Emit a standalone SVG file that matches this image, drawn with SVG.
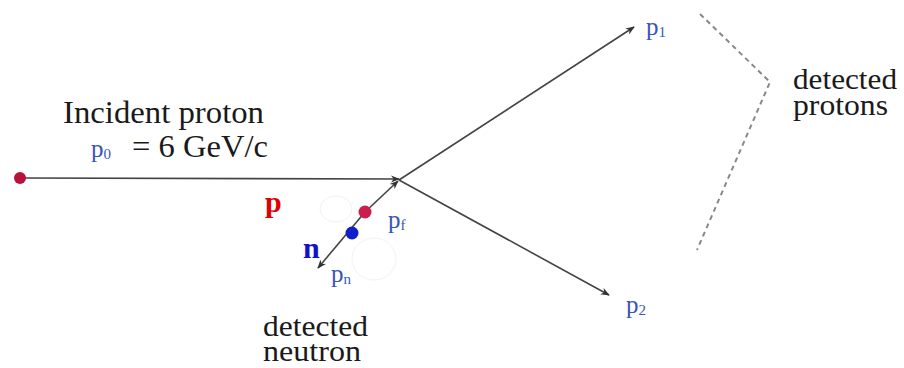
<svg xmlns="http://www.w3.org/2000/svg" width="904" height="368" viewBox="0 0 904 368">
<style>
.t{font-family:"Liberation Serif","Times New Roman",serif;fill:#1a1a1a;font-size:31px}
.t2{font-family:"Liberation Serif","Times New Roman",serif;fill:#1a1a1a;font-size:29px}
.lb{font-family:"Liberation Serif","Times New Roman",serif;fill:#3a55b8;font-size:25px}
.sub{font-size:15px}
.ln{stroke:#444;stroke-width:1.6;fill:none}
.dash{stroke:#888;stroke-width:2;stroke-dasharray:5,4;fill:none}
.bold{font-family:"Liberation Serif","Times New Roman",serif;font-weight:bold;font-size:30px}
</style>
<defs>
<marker id="ah" viewBox="0 0 10 10" refX="9" refY="5" markerWidth="9" markerHeight="9" markerUnits="userSpaceOnUse" orient="auto">
<path d="M0,1 L10,5 L0,9 L3,5 Z" fill="#333"/>
</marker>
</defs>
<rect width="904" height="368" fill="#fff"/>
<g id="blobs">
<ellipse cx="336" cy="209" rx="16" ry="13" fill="#fff" stroke="#f2f2f2"/>
<ellipse cx="374" cy="259" rx="22" ry="21" fill="#fff" stroke="#f2f2f2"/>
</g>
<g id="connectors">
<line class="ln" x1="20" y1="178" x2="399" y2="179" marker-end="url(#ah)"/>
<line class="ln" x1="399" y1="180" x2="634" y2="27" marker-end="url(#ah)"/>
<line class="ln" x1="399" y1="180" x2="609" y2="295" marker-end="url(#ah)"/>
<line class="ln" x1="365" y1="212" x2="398" y2="181" marker-end="url(#ah)"/>
<line class="ln" x1="365" y1="212" x2="318" y2="268" marker-end="url(#ah)"/>
<polyline class="dash" points="700,14 770,82 697,250"/>
</g>
<g id="incident">
<circle cx="20" cy="178" r="6" fill="#b8123a"/>
<text class="t" x="63" y="123" textLength="201" lengthAdjust="spacingAndGlyphs">Incident proton</text>
<text class="lb" x="91" y="157">p<tspan class="sub" dy="2">0</tspan></text>
<text class="t" x="132" y="157" textLength="136" lengthAdjust="spacingAndGlyphs">= 6 GeV/c</text>
</g>
<g id="proton">
<circle cx="365" cy="212" r="6.5" fill="#c8204a"/>
<text class="bold" x="265" y="212" fill="#e00000">p</text>
<text class="lb" x="388" y="228">p<tspan class="sub" dy="2">f</tspan></text>
</g>
<g id="neutron">
<circle cx="352" cy="233" r="6.5" fill="#1020c8"/>
<text class="bold" x="303" y="258" fill="#1010d0">n</text>
<text class="lb" x="331" y="282">p<tspan class="sub" dy="2">n</tspan></text>
<text class="t2" x="263" y="336" textLength="105" lengthAdjust="spacingAndGlyphs">detected</text>
<text class="t2" x="263" y="361" textLength="98" lengthAdjust="spacingAndGlyphs">neutron</text>
</g>
<g id="p1">
<text class="lb" x="646" y="35">p<tspan class="sub" dy="2">1</tspan></text>
</g>
<g id="p2">
<text class="lb" x="626" y="313">p<tspan class="sub" dy="2">2</tspan></text>
</g>
<g id="detected-protons">
<text class="t2" x="793" y="89" textLength="104" lengthAdjust="spacingAndGlyphs">detected</text>
<text class="t2" x="793" y="115" textLength="95" lengthAdjust="spacingAndGlyphs">protons</text>
</g>
</svg>
